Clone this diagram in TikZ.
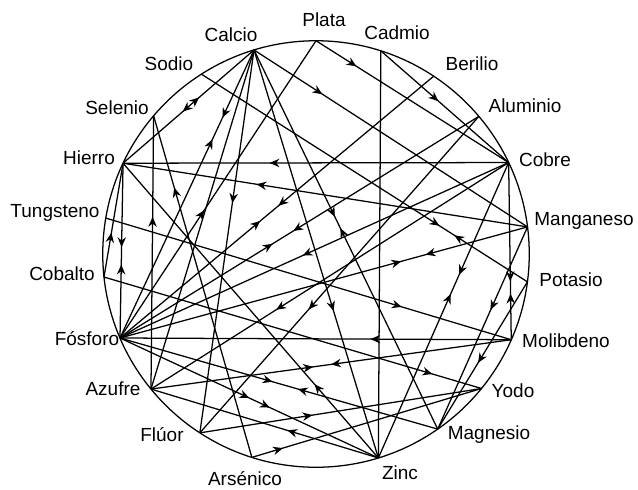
\documentclass[tikz,border=0pt]{standalone}
\usepackage{fontspec}
\setmainfont{Liberation Sans}
\usetikzlibrary{arrows.meta,decorations.markings}

\begin{document}
\begin{tikzpicture}[x=0.025cm, y=-0.025cm, line width=0.9pt,
    el/.style={font=\fontsize{13.5}{16}\selectfont, inner sep=0pt},
    fw/.style={postaction={decorate,decoration={markings,
        mark=at position #1 with {\arrow{Stealth[length=7pt,width=6pt]}}}}},
    bw/.style={postaction={decorate,decoration={markings,
        mark=at position #1 with {\arrowreversed{Stealth[length=7pt,width=6pt]}}}}}]
  \useasboundingbox (0,0) rectangle (638,489);

  % 1. The circle and the points on it
  \coordinate (O) at (316,254);
  \draw (O) circle [radius=5.33cm];
  \foreach \n/\a in {Pl/90, Cd/72.3, Be/56.5, Al/40.2, Cu/25.4, Mn/7.3,
      K/-7.5, Mo/-23.7, Yo/-39.1, Mg/-55.2, Zn/-73, As/-107.5, Fl/-123,
      Az/-140.7, Ph/-156.8, Co/-173.8, W/170.3, Fe/154.8, Se/139.6,
      Na/122.5, Ca/106.9}
    \path (O) ++(\a:5.33cm) coordinate (\n);

  % 2. Names of the elements
  \node[el] (lPl) at (324,20) {Plata};
  \node[el] (lCd) at (397,33) {Cadmio};
  \node[el] (lBe) at (472,64) {Berilio};
  \node[el] (lAl) at (525,106) {Aluminio};
  \node[el] (lCu) at (545,160) {Cobre};
  \node[el] (lMn) at (584,221) {Manganeso};
  \node[el] (lK)  at (571,280) {Potasio};
  \node[el] (lMo) at (566,341) {Molibdeno};
  \node[el] (lYo) at (513,391) {Yodo};
  \node[el] (lMg) at (489,435) {Magnesio};
  \node[el] (lZn) at (400,473) {Zinc};
  \node[el] (lAs) at (245,479) {Arsénico};
  \node[el] (lFl) at (162,435) {Flúor};
  \node[el] (lAz) at (113,389) {Azufre};
  \node[el] (lPh) at (87,339) {Fósforo};
  \node[el] (lCo) at (62,274) {Cobalto};
  \node[el] (lW)  at (55,213) {Tungsteno};
  \node[el] (lFe) at (89,158) {Hierro};
  \node[el] (lSe) at (117,108) {Selenio};
  \node[el] (lNa) at (169,64) {Sodio};
  \node[el] (lCa) at (231,35) {Calcio};

  % 3. Chords
  \draw[bw=0.42, fw=0.545] (Ca) -- (Fe);
  \draw[fw=0.235, bw=0.31] (Ca) -- (Ph);
  \draw (Ca) -- (Az);
  \draw[fw=0.40] (Ca) -- (Fl);
  \draw[fw=0.64] (Ca) -- (Zn);
  \draw[fw=0.44, bw=0.47] (Ca) -- (Mg);
  \draw[fw=0.25] (Ca) -- (Mn);
  \draw[fw=0.21] (Pl) -- (Cu);
  \draw[bw=0.57] (Pl) -- (Ph);
  \draw (Cd) -- (Zn);
  \draw[fw=0.45] (Cd) -- (Cu);
  \draw[fw=0.495, bw=0.553] (Be) -- (Ph);
  \draw[fw=0.517, bw=0.575] (Al) -- (Ph);
  \draw[fw=0.53] (Cu) -- (Ph);
  \draw[fw=0.65] (Cu) -- (Az);
  \draw[fw=0.61] (Al) -- (Fl);
  \draw[fw=0.62] (Cu) -- (Fe);
  \draw[fw=0.67] (Mn) -- (Fe);
  \draw[fw=0.25] (Zn) -- (Fe);
  \draw[fw=0.48, bw=0.58] (Fe) -- (Ph);
  \draw[fw=0.39] (Co) -- (Fe);
  \draw[fw=0.63] (Az) -- (Se);
  \draw[fw=0.79] (As) -- (Se);
  \draw[fw=0.73, bw=0.776] (Na) -- (K);
  \draw[fw=0.73] (W) -- (Mo);
  \draw[fw=0.87] (Co) -- (Yo);
  \draw[fw=0.67, bw=0.74] (Cu) -- (Mo);
  \draw[fw=0.38, bw=0.445] (Cu) -- (Zn);
  \draw[fw=0.41] (Mn) -- (Mg);
  \draw[fw=0.55] (K) -- (Mg);
  \draw[fw=0.25, bw=0.31] (Mn) -- (Ph);
  \draw[fw=0.36] (Mo) -- (Ph);
  \draw[fw=0.45, bw=0.50] (Az) -- (Mo);
  \draw[fw=0.48, bw=0.56] (Ph) -- (Mg);
  \draw[fw=0.50, fw=0.58] (Ph) -- (Zn);
  \draw[fw=0.40] (Fl) -- (Yo);
  \draw[fw=0.135] (As) -- (Yo);
  \draw[fw=0.40] (Zn) -- (Az);
\end{tikzpicture}
\end{document}
